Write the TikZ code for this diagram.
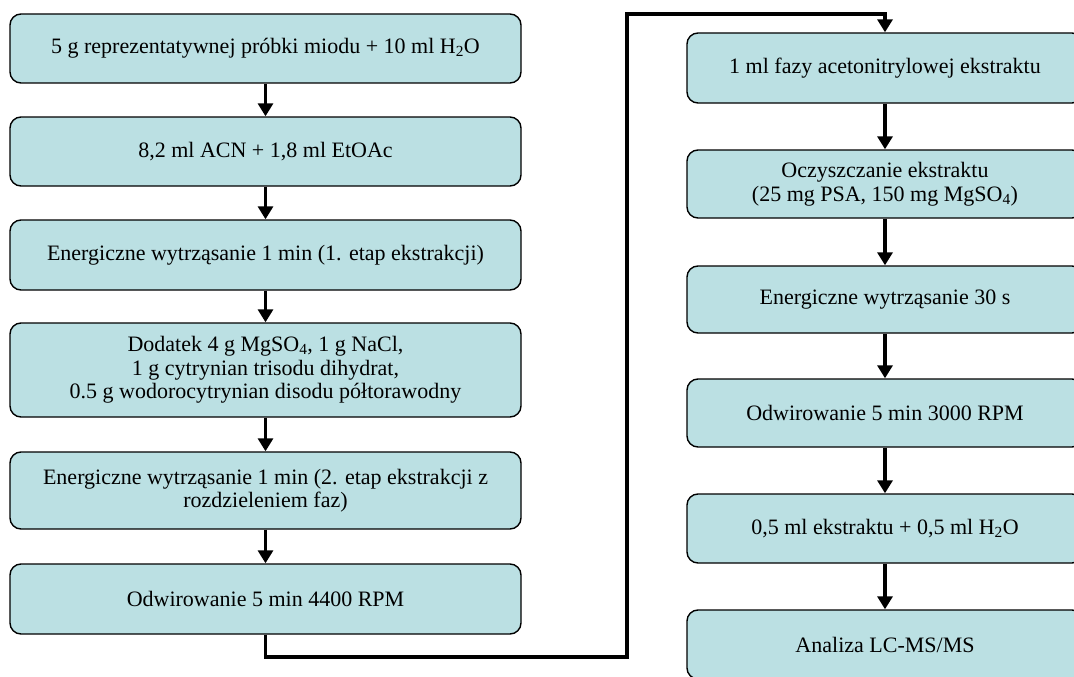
\documentclass[tikz,border=0pt]{standalone}
\usepackage{fontspec}
\setmainfont{Liberation Serif}
\usetikzlibrary{arrows.meta}
\definecolor{boxfill}{RGB}{187,224,227}
\begin{document}
\begin{tikzpicture}[x=1pt,y=-1pt,
  box/.style={draw=black, line width=1.4pt, fill=boxfill, rounded corners=11pt,
    align=center, inner sep=2pt, font=\fontsize{22}{23.5}\selectfont},
  lbox/.style={box, minimum width=511pt},
  rbox/.style={box, minimum width=396pt},
  flow/.style={line width=3.6pt, -{Triangle[length=13pt,width=15pt]}}]
\useasboundingbox (0,0) rectangle (1074,677);
\clip (0,0) rectangle (1074,677);

% left column
\node[lbox, minimum height=69pt] (a1) at (265.5,48.5) {5 g reprezentatywnej próbki miodu + 10 ml H\textsubscript{2}O};
\node[lbox, minimum height=69pt] (a2) at (265.5,151.5) {8,2 ml ACN + 1,8 ml EtOAc};
\node[lbox, minimum height=70pt] (a3) at (265.5,255) {Energiczne wytrząsanie 1 min (1. etap ekstrakcji)};
\node[lbox, minimum height=94pt] (a4) at (265.5,370) {Dodatek 4 g MgSO\textsubscript{4}, 1 g NaCl,\\1 g cytrynian trisodu dihydrat,\\0.5 g wodorocytrynian disodu półtorawodny};
\node[lbox, minimum height=77pt] (a5) at (265.5,490.5) {Energiczne wytrząsanie 1 min (2. etap ekstrakcji z\\rozdzieleniem faz)};
\node[lbox, minimum height=70pt] (a6) at (265.5,599) {Odwirowanie 5 min 4400 RPM};

% right column
\node[rbox, minimum height=70pt] (b1) at (885,68) {1 ml fazy acetonitrylowej ekstraktu};
\node[rbox, minimum height=68pt] (b2) at (885,184) {Oczyszczanie ekstraktu\\(25 mg PSA, 150 mg MgSO\textsubscript{4})};
\node[rbox, minimum height=67pt] (b3) at (885,299.5) {Energiczne wytrząsanie 30 s};
\node[rbox, minimum height=68pt] (b4) at (885,413) {Odwirowanie 5 min 3000 RPM};
\node[rbox, minimum height=69pt] (b5) at (885,528.5) {0,5 ml ekstraktu + 0,5 ml H\textsubscript{2}O};
\node[rbox, minimum height=69pt] (b6) at (885,644.5) {Analiza LC-MS/MS};

% arrows within the columns
\foreach \u/\v in {a1/a2,a2/a3,a3/a4,a4/a5,a5/a6,b1/b2,b2/b3,b3/b4,b4/b5,b5/b6}
  \draw[flow] (\u.south) -- (\v.north);

% link from the left column to the right one
\coordinate (c1) at (265.5,657);
\coordinate (c2) at (627,657);
\coordinate (c3) at (627,14);
\coordinate (c4) at (885,14);
\draw[flow, line join=miter] (a6.south) -- (c1) -- (c2) -- (c3) -- (c4) -- (b1.north);
\end{tikzpicture}
\end{document}
